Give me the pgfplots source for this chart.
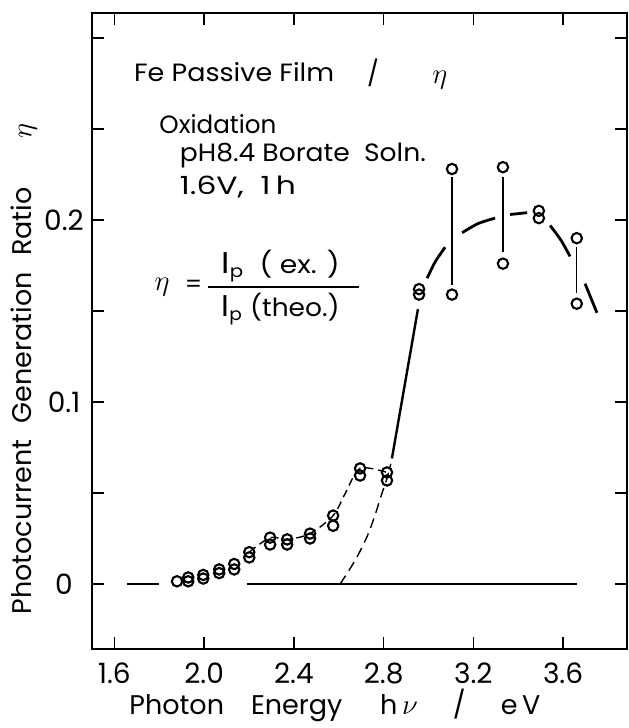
\documentclass[border=0pt]{standalone}
\usepackage{pgfplots}
\pgfplotsset{compat=1.18}
\usepackage{graphicx}
\usepackage{fontspec}
\setmainfont{Poppins}
\newcommand{\wtx}[2]{\resizebox{#1}{\height}{#2}}
\begin{document}
\begin{tikzpicture}
\useasboundingbox (-46pt,-39.5pt) rectangle (268pt,324.5pt);
\begin{axis}[
  at={(0,0)}, anchor=south west,
  scale only axis, width=267.5pt, height=318pt,
  xmin=1.5, xmax=3.885, ymin=-0.0357, ymax=0.3137,
  axis line style={line width=1.2pt},
  xtick={1.6,2.0,2.4,2.8,3.2,3.6},
  xticklabels={1.6,2.0,2.4,2.8,3.2,3.6},
  ytick={0,0.05,0.1,0.15,0.2,0.25,0.3},
  yticklabels={0,,0.1,,0.2,,},
  tick align=inside, major tick length=6pt,
  tick style={line width=0.8pt, black},
  /pgf/number format/assume math mode=true,
  ticklabel style={font=\fontsize{14}{16}\selectfont},
  xticklabel style={anchor=center, yshift=-12pt},
  yticklabel style={anchor=center, xshift=-14pt},
  xlabel={Photon\hspace{1em}Energy\hspace{1.4em}h\,$\nu$\hspace{1.3em}/\hspace{1.3em}e\,V},
  ylabel={Photocurrent\hspace{0.6em}Generation\hspace{0.6em}Ratio\hspace{1.8em}$\eta$},
  label style={font=\fontsize{13.5}{15}\selectfont},
  xlabel style={at={(axis description cs:0.454,0)}, anchor=center, yshift=-28pt},
  ylabel style={at={(axis description cs:0,0.44)}, anchor=center, yshift=34pt},
  clip=false,
]
% baseline
\addplot[black, line width=0.7pt] coordinates {(1.657,0) (1.80,0)};
\addplot[black, line width=0.7pt] coordinates {(2.19,0) (3.661,0)};
% dashed theoretical curve
\addplot[black, line width=0.7pt, dash pattern=on 5pt off 3pt, smooth] coordinates {
 (2.606,0) (2.673,0.013) (2.726,0.026) (2.762,0.038) (2.793,0.050) (2.815,0.058) (2.832,0.066)};
% steep solid
\addplot[black, line width=1.2pt] coordinates {(2.837,0.069) (2.953,0.151)};
% low region dashed connection
\addplot[black, line width=0.7pt, dash pattern=on 4pt off 2.5pt, smooth] coordinates {
 (2.201,0.0175) (2.294,0.0255) (2.370,0.0245) (2.472,0.0277) (2.575,0.0376) (2.63,0.050) (2.695,0.0635) (2.815,0.0613)};
% upper solid segments
\addplot[black, line width=1.4pt, smooth] coordinates {(2.994,0.168) (3.03,0.177) (3.074,0.185)};
\addplot[black, line width=1.4pt, smooth] coordinates {(3.150,0.193) (3.221,0.198) (3.297,0.201)};
\addplot[black, line width=1.4pt] coordinates {(3.364,0.203) (3.440,0.204)};
\addplot[black, line width=1.4pt, smooth] coordinates {(3.542,0.197) (3.59,0.189) (3.631,0.180)};
\addplot[black, line width=1.4pt] coordinates {(3.698,0.165) (3.751,0.149)};
% vertical range lines
\addplot[black, line width=0.6pt] coordinates {(3.105,0.2235) (3.105,0.1645)};
\addplot[black, line width=0.6pt] coordinates {(3.332,0.2235) (3.332,0.1825)};
\addplot[black, line width=0.6pt] coordinates {(3.661,0.185) (3.661,0.160)};
% data circles
\addplot[only marks, mark=o, mark size=2.6pt, mark options={line width=1.05pt, fill=white}] coordinates {
 (1.879,0.0015) (1.929,0.0036) (1.929,0.0015) (1.996,0.003) (1.996,0.005)
 (2.067,0.006) (2.067,0.008) (2.134,0.008) (2.134,0.011)
 (2.201,0.0146) (2.201,0.0175) (2.294,0.0217) (2.294,0.0255)
 (2.370,0.0217) (2.370,0.0245) (2.472,0.025) (2.472,0.0277)
 (2.575,0.032) (2.575,0.0376) (2.695,0.0596) (2.695,0.0635)
 (2.815,0.0569) (2.815,0.0613) (2.958,0.159) (2.958,0.162)
 (3.105,0.228) (3.105,0.159) (3.332,0.229) (3.332,0.176)
 (3.492,0.205) (3.492,0.201) (3.661,0.190) (3.661,0.154)};
% annotations
\node[anchor=west, inner sep=0pt, font=\fontsize{12.5}{14}\selectfont] at (axis cs:1.686,0.281) {\wtx{100pt}{Fe Passive Film}};
\node[anchor=center, font=\fontsize{12.5}{14}\selectfont] at (axis cs:2.753,0.281) {/};
\node[anchor=center, font=\fontsize{14}{16}\selectfont] at (axis cs:3.051,0.277) {$\eta$};
\node[anchor=west, inner sep=0pt, font=\fontsize{12.5}{14}\selectfont] at (axis cs:1.799,0.2527) {\wtx{58.5pt}{Oxidation}};
\node[anchor=west, inner sep=0pt, font=\fontsize{12.5}{14}\selectfont] at (axis cs:1.890,0.2355) {\wtx{123pt}{pH8.4 Borate\ \ Soln.}};
\node[anchor=west, inner sep=0pt, font=\fontsize{12.5}{14}\selectfont] at (axis cs:1.890,0.2182) {\wtx{58pt}{1.6V,\ \ 1\,h}};
\node[anchor=center, font=\fontsize{14}{16}\selectfont] at (axis cs:1.812,0.1633) {$\eta$};
\node[anchor=center, font=\fontsize{12}{14}\selectfont] at (axis cs:1.953,0.1633) {=};
\node[anchor=center, inner sep=0pt, font=\fontsize{12.5}{14}\selectfont] at (axis cs:2.341,0.1745) {\wtx{59pt}{{\fontsize{15}{15}\selectfont$\mathrm{I}$}$_{\mathrm{p}}$\ \ ( ex. )}};
\node[anchor=center, inner sep=0pt] at (axis cs:2.353,0.1633) {\rule{75.7pt}{0.9pt}};
\node[anchor=center, inner sep=0pt, font=\fontsize{12.5}{14}\selectfont] at (axis cs:2.341,0.1509) {\wtx{59pt}{{\fontsize{15}{15}\selectfont$\mathrm{I}$}$_{\mathrm{p}}$ (theo.)}};
\end{axis}
\end{tikzpicture}
\end{document}
